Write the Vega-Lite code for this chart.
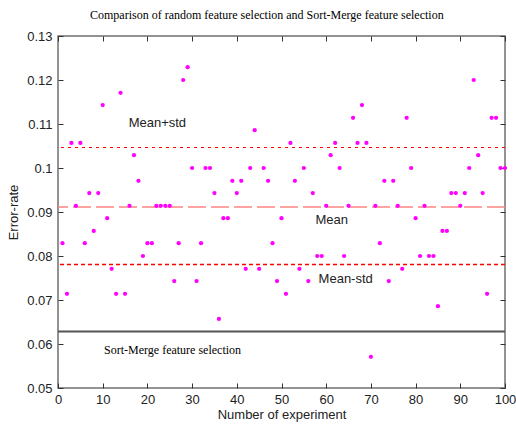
{
  "$schema": "https://vega.github.io/schema/vega-lite/v6.json",
  "width": 447,
  "height": 352,
  "autosize": {"type": "none"},
  "padding": {"left": 58, "top": 36, "right": 11, "bottom": 40},
  "background": "white",
  "title": {
    "text": "Comparison of random feature selection and Sort-Merge feature selection",
    "font": "Liberation Serif",
    "fontSize": 12,
    "fontWeight": "normal",
    "color": "#000000",
    "anchor": "start",
    "frame": "group",
    "dx": 32,
    "offset": 8
  },
  "config": {
    "view": {"stroke": "#707070", "strokeWidth": 1.5},
    "axis": {
      "labelFont": "Liberation Sans",
      "labelFontSize": 13,
      "labelColor": "#222222",
      "titleFont": "Liberation Sans",
      "titleFontSize": 13,
      "titleFontWeight": "normal",
      "titleColor": "#222222",
      "domain": false,
      "grid": false,
      "tickColor": "#333333",
      "tickSize": -5,
      "labelFlush": false
    }
  },
  "datasets": {
    "points": [
      {"experiment": 1, "error": 0.0829}, {"experiment": 2, "error": 0.0714}, {"experiment": 3, "error": 0.1057}, {"experiment": 4, "error": 0.0914}, {"experiment": 5, "error": 0.1057},
      {"experiment": 6, "error": 0.0829}, {"experiment": 7, "error": 0.0943}, {"experiment": 8, "error": 0.0857}, {"experiment": 9, "error": 0.0943}, {"experiment": 10, "error": 0.1143},
      {"experiment": 11, "error": 0.0886}, {"experiment": 12, "error": 0.0771}, {"experiment": 13, "error": 0.0714}, {"experiment": 14, "error": 0.1171}, {"experiment": 15, "error": 0.0714},
      {"experiment": 16, "error": 0.0914}, {"experiment": 17, "error": 0.1029}, {"experiment": 18, "error": 0.0971}, {"experiment": 19, "error": 0.08}, {"experiment": 20, "error": 0.0829},
      {"experiment": 21, "error": 0.0829}, {"experiment": 22, "error": 0.0914}, {"experiment": 23, "error": 0.0914}, {"experiment": 24, "error": 0.0914}, {"experiment": 25, "error": 0.0914},
      {"experiment": 26, "error": 0.0743}, {"experiment": 27, "error": 0.0829}, {"experiment": 28, "error": 0.12}, {"experiment": 29, "error": 0.1229}, {"experiment": 30, "error": 0.1},
      {"experiment": 31, "error": 0.0743}, {"experiment": 32, "error": 0.0829}, {"experiment": 33, "error": 0.1}, {"experiment": 34, "error": 0.1}, {"experiment": 35, "error": 0.0943},
      {"experiment": 36, "error": 0.0657}, {"experiment": 37, "error": 0.0886}, {"experiment": 38, "error": 0.0886}, {"experiment": 39, "error": 0.0971}, {"experiment": 40, "error": 0.0943},
      {"experiment": 41, "error": 0.0971}, {"experiment": 42, "error": 0.0771}, {"experiment": 43, "error": 0.1}, {"experiment": 44, "error": 0.1086}, {"experiment": 45, "error": 0.0771},
      {"experiment": 46, "error": 0.1}, {"experiment": 47, "error": 0.0971}, {"experiment": 48, "error": 0.0829}, {"experiment": 49, "error": 0.0743}, {"experiment": 50, "error": 0.0886},
      {"experiment": 51, "error": 0.0714}, {"experiment": 52, "error": 0.1057}, {"experiment": 53, "error": 0.0971}, {"experiment": 54, "error": 0.0771}, {"experiment": 55, "error": 0.1},
      {"experiment": 56, "error": 0.0743}, {"experiment": 57, "error": 0.0943}, {"experiment": 58, "error": 0.08}, {"experiment": 59, "error": 0.08}, {"experiment": 60, "error": 0.0914},
      {"experiment": 61, "error": 0.1029}, {"experiment": 62, "error": 0.1057}, {"experiment": 63, "error": 0.1}, {"experiment": 64, "error": 0.08}, {"experiment": 65, "error": 0.0914},
      {"experiment": 66, "error": 0.1114}, {"experiment": 67, "error": 0.1057}, {"experiment": 68, "error": 0.1143}, {"experiment": 69, "error": 0.1057}, {"experiment": 70, "error": 0.0571},
      {"experiment": 71, "error": 0.0914}, {"experiment": 72, "error": 0.0829}, {"experiment": 73, "error": 0.0971}, {"experiment": 74, "error": 0.0743}, {"experiment": 75, "error": 0.0971},
      {"experiment": 76, "error": 0.0914}, {"experiment": 77, "error": 0.0771}, {"experiment": 78, "error": 0.1114}, {"experiment": 79, "error": 0.1}, {"experiment": 80, "error": 0.0886},
      {"experiment": 81, "error": 0.08}, {"experiment": 82, "error": 0.0914}, {"experiment": 83, "error": 0.08}, {"experiment": 84, "error": 0.08}, {"experiment": 85, "error": 0.0686},
      {"experiment": 86, "error": 0.0857}, {"experiment": 87, "error": 0.0857}, {"experiment": 88, "error": 0.0943}, {"experiment": 89, "error": 0.0943}, {"experiment": 90, "error": 0.0914},
      {"experiment": 91, "error": 0.0943}, {"experiment": 92, "error": 0.1}, {"experiment": 93, "error": 0.12}, {"experiment": 94, "error": 0.1029}, {"experiment": 95, "error": 0.0943},
      {"experiment": 96, "error": 0.0714}, {"experiment": 97, "error": 0.1114}, {"experiment": 98, "error": 0.1114}, {"experiment": 99, "error": 0.1}, {"experiment": 100, "error": 0.1}
    ],
    "lines": [
      {"line": "Mean+std", "value": 0.10466},
      {"line": "Mean", "value": 0.09114},
      {"line": "Mean-std", "value": 0.07807},
      {"line": "Sort-Merge", "value": 0.06284}
    ],
    "labels": [
      {"label": "Mean+std", "x": 15.8, "y": 0.1102},
      {"label": "Mean", "x": 57.6, "y": 0.0882},
      {"label": "Mean-std", "x": 58.3, "y": 0.0748}
    ],
    "note": [
      {"label": "Sort-Merge feature selection", "x": 10.3, "y": 0.0586}
    ]
  },
  "resolve": {"axis": {"x": "independent", "y": "independent"}},
  "layer": [
    {
      "data": {"name": "lines"},
      "mark": {"type": "rule"},
      "encoding": {
        "y": {"field": "value", "type": "quantitative", "scale": {"domain": [0.05, 0.13]}, "axis": null},
        "color": {"field": "line", "type": "nominal", "legend": null,
          "scale": {"domain": ["Mean+std", "Mean", "Mean-std", "Sort-Merge"], "range": ["#ff0000", "#ff8484", "#ff0000", "#555555"]}},
        "strokeDash": {"field": "line", "type": "nominal", "legend": null,
          "scale": {"domain": ["Mean+std", "Mean", "Mean-std", "Sort-Merge"], "range": [[3, 4], [18, 5], [4, 3], [1, 0]]}},
        "strokeWidth": {"field": "line", "type": "nominal", "legend": null,
          "scale": {"domain": ["Mean+std", "Mean", "Mean-std", "Sort-Merge"], "range": [1, 2, 1, 1.5]}}
      }
    },
    {
      "data": {"name": "points"},
      "mark": {"type": "circle", "color": "#ff00ff", "opacity": 1, "size": 18},
      "encoding": {
        "x": {"field": "experiment", "type": "quantitative", "scale": {"domain": [0, 100], "nice": false},
          "axis": {"orient": "bottom", "title": "Number of experiment", "values": [0, 10, 20, 30, 40, 50, 60, 70, 80, 90, 100], "labelPadding": 10, "titlePadding": 2}},
        "y": {"field": "error", "type": "quantitative", "scale": {"domain": [0.05, 0.13], "nice": false},
          "axis": {"orient": "left", "title": "Error-rate", "values": [0.05, 0.06, 0.07, 0.08, 0.09, 0.1, 0.11, 0.12, 0.13], "format": "~g", "labelPadding": 11, "titlePadding": 6}}
      }
    },
    {
      "data": {"name": "points"},
      "mark": {"type": "circle", "opacity": 0},
      "encoding": {
        "x": {"field": "experiment", "type": "quantitative",
          "axis": {"orient": "top", "title": null, "labels": false, "values": [0, 10, 20, 30, 40, 50, 60, 70, 80, 90, 100]}},
        "y": {"field": "error", "type": "quantitative",
          "axis": {"orient": "right", "title": null, "labels": false, "values": [0.05, 0.06, 0.07, 0.08, 0.09, 0.1, 0.11, 0.12, 0.13]}}
      }
    },
    {
      "data": {"name": "labels"},
      "mark": {"type": "text", "align": "left", "baseline": "middle", "font": "Liberation Sans", "fontSize": 13, "color": "#222222"},
      "encoding": {
        "x": {"field": "x", "type": "quantitative", "axis": null},
        "y": {"field": "y", "type": "quantitative", "axis": null},
        "text": {"field": "label"}
      }
    },
    {
      "data": {"name": "note"},
      "mark": {"type": "text", "align": "left", "baseline": "middle", "font": "Liberation Serif", "fontSize": 12, "color": "#000000"},
      "encoding": {
        "x": {"field": "x", "type": "quantitative", "axis": null},
        "y": {"field": "y", "type": "quantitative", "axis": null},
        "text": {"field": "label"}
      }
    }
  ]
}
